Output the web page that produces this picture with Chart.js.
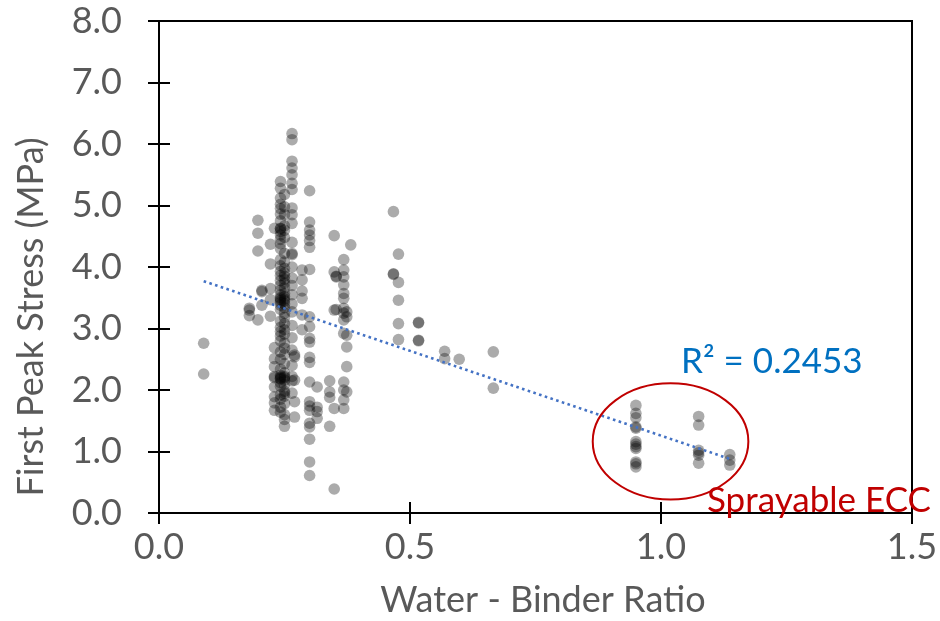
<!DOCTYPE html>
<html>
<head>
<meta charset="utf-8">
<script src="https://cdn.jsdelivr.net/npm/chart.js@4/dist/chart.umd.min.js"></script>
<style>
  html, body { margin: 0; padding: 0; background: #ffffff; }
  canvas { display: block; }
</style>
</head>
<body>
<canvas id="chart" width="940" height="621"></canvas>
<script>
// First peak stress (MPa) grouped by water-binder ratio
const s009 = [2.76, 2.26];
const s018 = [3.33, 3.30, 3.21];
const s020 = [4.76, 4.55, 4.26, 3.14];
const s021 = [3.62, 3.60, 3.38];
const s022 = [4.37, 4.05, 3.65, 3.47, 3.20];
const s023 = [4.63, 2.69, 2.51, 2.38, 2.22, 2.20, 2.05, 1.89, 1.79, 1.67];
const s024 = [5.39, 5.28, 5.12, 5.02, 4.95, 4.86, 4.75, 4.63, 4.62, 4.58, 4.52, 4.45, 4.38,
              4.30, 4.12, 4.02, 3.93, 3.86, 3.78, 3.70, 3.62, 3.55, 3.50, 3.48, 3.45, 3.42,
              3.38, 3.31, 3.12, 3.02, 2.95, 2.88, 2.80, 2.62, 2.50, 2.34, 2.24, 2.21, 2.19,
              2.18, 2.12, 2.06, 1.92, 1.85, 1.72, 1.64];
const s025 = [5.18, 4.98, 4.85, 4.67, 4.60, 4.48, 4.22, 4.08, 3.98, 3.90, 3.85, 3.80, 3.74,
              3.66, 3.57, 3.52, 3.48, 3.45, 3.40, 3.34, 3.25, 3.18, 3.08, 2.98, 2.91, 2.76,
              2.68, 2.58, 2.43, 2.28, 2.22, 2.20, 2.16, 2.09, 1.98, 1.95, 1.90, 1.78, 1.60,
              1.52, 1.41];
const s026 = [6.17, 6.07, 5.72, 5.61, 5.50, 5.36, 5.26, 4.96, 4.85, 4.71, 4.40, 4.22, 4.20,
              4.00, 3.82, 3.70, 3.55, 3.40, 3.27, 3.05, 2.85, 2.65, 2.40, 2.22, 2.15, 1.95];
const s027 = [2.57, 2.54, 2.16, 1.81, 1.56];
const s028 = [3.95, 3.79, 3.61, 3.49, 3.22, 2.98];
const s030 = [5.24, 4.73, 4.60, 4.52, 4.43, 4.32, 3.96, 3.19, 3.03, 2.84, 2.78, 2.53, 2.45,
              2.13, 1.81, 1.74, 1.67, 1.46, 1.40, 1.20, 0.83, 0.61];
const s031 = [2.05, 1.72, 1.65, 1.54];
const s034 = [2.15, 1.97, 1.88, 1.41];
const s035 = [4.51, 3.92, 3.30, 1.70, 0.39];
const s035b = [3.85, 3.84, 3.31];
const s037 = [4.12, 3.95, 3.84, 3.71, 3.57, 3.49, 3.33, 3.25, 3.14, 2.92, 2.13, 2.00, 1.84, 1.70];
const s037b = [3.27, 3.19, 2.89, 2.70, 2.38, 1.97];
const s038 = [4.36];
const s047 = [4.90, 3.89, 3.88];
const s048 = [4.21, 3.75, 3.46, 3.08, 2.82];
const s052 = [3.10, 3.09, 2.81, 2.80];
const s057 = [2.63, 2.51];
const s060 = [2.50];
const s067 = [2.62, 2.03];
const s095 = [1.75, 1.62, 1.55, 1.40, 1.38, 1.16, 1.12, 1.08, 1.05, 0.83, 0.80, 0.75];
const s108 = [1.57, 1.43, 1.02, 0.98, 0.94, 0.81];
const s114 = [0.95, 0.86, 0.78];

// Water-binder ratio of each group, in the same order as the stress groups
const ratios = [0.089, 0.180, 0.197, 0.205, 0.222, 0.230, 0.242, 0.250, 0.265, 0.270, 0.285,
                0.300, 0.315, 0.340, 0.349, 0.353, 0.368, 0.374, 0.382, 0.467, 0.477, 0.517,
                0.569, 0.598, 0.666, 0.950, 1.075, 1.137];
const stressGroups = [s009, s018, s020, s021, s022, s023, s024, s025, s026, s027, s028,
                      s030, s031, s034, s035, s035b, s037, s037b, s038, s047, s048, s052,
                      s057, s060, s067, s095, s108, s114];

// Linear trend line end points
const trendRatio = [0.089, 1.137];
const trendStress = [3.77, 0.88];

// Axis ticks
const xTicks = [0.0, 0.5, 1.0, 1.5];
const yTicks = [0, 1, 2, 3, 4, 5, 6, 7, 8];

// Sprayable ECC region outline (centre and radii in data units)
const ellipseCenter = [1.019, 1.163];
const ellipseRadii = [0.155, 0.945];

const FONT = 'Lato, "Open Sans", sans-serif';
const GREY = '#595959';

const points = [];
ratios.forEach((r, i) => stressGroups[i].forEach(v => points.push({ x: r, y: v })));
const trend = trendRatio.map((r, i) => ({ x: r, y: trendStress[i] }));

const overlay = {
  id: 'overlay',
  afterDraw(chart) {
    const { ctx, chartArea: a, scales: { x, y } } = chart;
    ctx.save();
    // plot frame
    ctx.strokeStyle = '#000000';
    ctx.lineWidth = 2;
    ctx.strokeRect(a.left, a.top, a.right - a.left, a.bottom - a.top);
    // cross tick marks
    ctx.beginPath();
    yTicks.forEach(v => {
      const py = Math.round(y.getPixelForValue(v));
      ctx.moveTo(a.left - 11, py); ctx.lineTo(a.left + 11, py);
    });
    xTicks.forEach(v => {
      const px = Math.round(x.getPixelForValue(v));
      ctx.moveTo(px, a.bottom - 11); ctx.lineTo(px, a.bottom + 11);
    });
    ctx.stroke();

    // ellipse around the sprayable mixes
    const cx = x.getPixelForValue(ellipseCenter[0]);
    const cy = y.getPixelForValue(ellipseCenter[1]);
    const rx = Math.abs(x.getPixelForValue(ellipseCenter[0] + ellipseRadii[0]) - cx);
    const ry = Math.abs(y.getPixelForValue(ellipseCenter[1] + ellipseRadii[1]) - cy);
    ctx.beginPath();
    ctx.ellipse(cx, cy, rx, ry, 0, 0, Math.PI * 2);
    ctx.strokeStyle = '#C00000';
    ctx.lineWidth = 2;
    ctx.stroke();

    // annotations
    ctx.font = '35px ' + FONT;
    ctx.textBaseline = 'alphabetic';
    ctx.textAlign = 'left';
    ctx.fillStyle = '#0070C0';
    ctx.fillText('R\u00B2 = 0.2453', 681, 373);
    ctx.fillStyle = '#C00000';
    ctx.fillText('Sprayable ECC', 707, 512);

    // axis titles
    ctx.font = '36px ' + FONT;
    ctx.fillStyle = GREY;
    ctx.textAlign = 'center';
    ctx.textBaseline = 'middle';
    ctx.fillText('Water - Binder Ratio', 543, 600);
    ctx.translate(31, 317);
    ctx.rotate(-Math.PI / 2);
    ctx.fillText('First Peak Stress (MPa)', 0, 0);
    ctx.restore();
  }
};

const noOverflow = s => {
  s.paddingTop = 0; s.paddingBottom = 0; s.paddingLeft = 0; s.paddingRight = 0;
};

new Chart(document.getElementById('chart'), {
  type: 'scatter',
  data: {
    datasets: [
      {
        data: points,
        pointRadius: 5.8,
        pointHoverRadius: 5.8,
        pointBackgroundColor: 'rgba(0,0,0,0.33)',
        pointBorderWidth: 0,
        order: 2
      },
      {
        type: 'line',
        data: trend,
        borderColor: '#4472C4',
        borderWidth: 2.6,
        borderDash: [2.6, 3.4],
        pointRadius: 0,
        fill: false,
        order: 1
      }
    ]
  },
  options: {
    responsive: false,
    animation: false,
    devicePixelRatio: 1,
    layout: { padding: { top: 21, right: 28, left: 0, bottom: 0 } },
    plugins: { legend: { display: false }, tooltip: { enabled: false } },
    scales: {
      x: {
        type: 'linear', min: 0, max: 1.5,
        afterBuildTicks: s => { s.ticks = xTicks.map(v => ({ value: v })); },
        afterFit: s => { s.height = 108; noOverflow(s); },
        grid: { display: false, drawTicks: false }, border: { display: false },
        ticks: { padding: 13, color: GREY, font: { family: FONT, size: 36 },
                 callback: v => Number(v).toFixed(1), maxRotation: 0 }
      },
      y: {
        type: 'linear', min: 0, max: 8,
        afterBuildTicks: s => { s.ticks = yTicks.map(v => ({ value: v })); },
        afterFit: s => { s.width = 159; noOverflow(s); },
        grid: { display: false, drawTicks: false }, border: { display: false },
        ticks: { padding: 37, color: GREY, font: { family: FONT, size: 36 },
                 callback: v => Number(v).toFixed(1) }
      }
    }
  },
  plugins: [overlay]
});
</script>
</body>
</html>
